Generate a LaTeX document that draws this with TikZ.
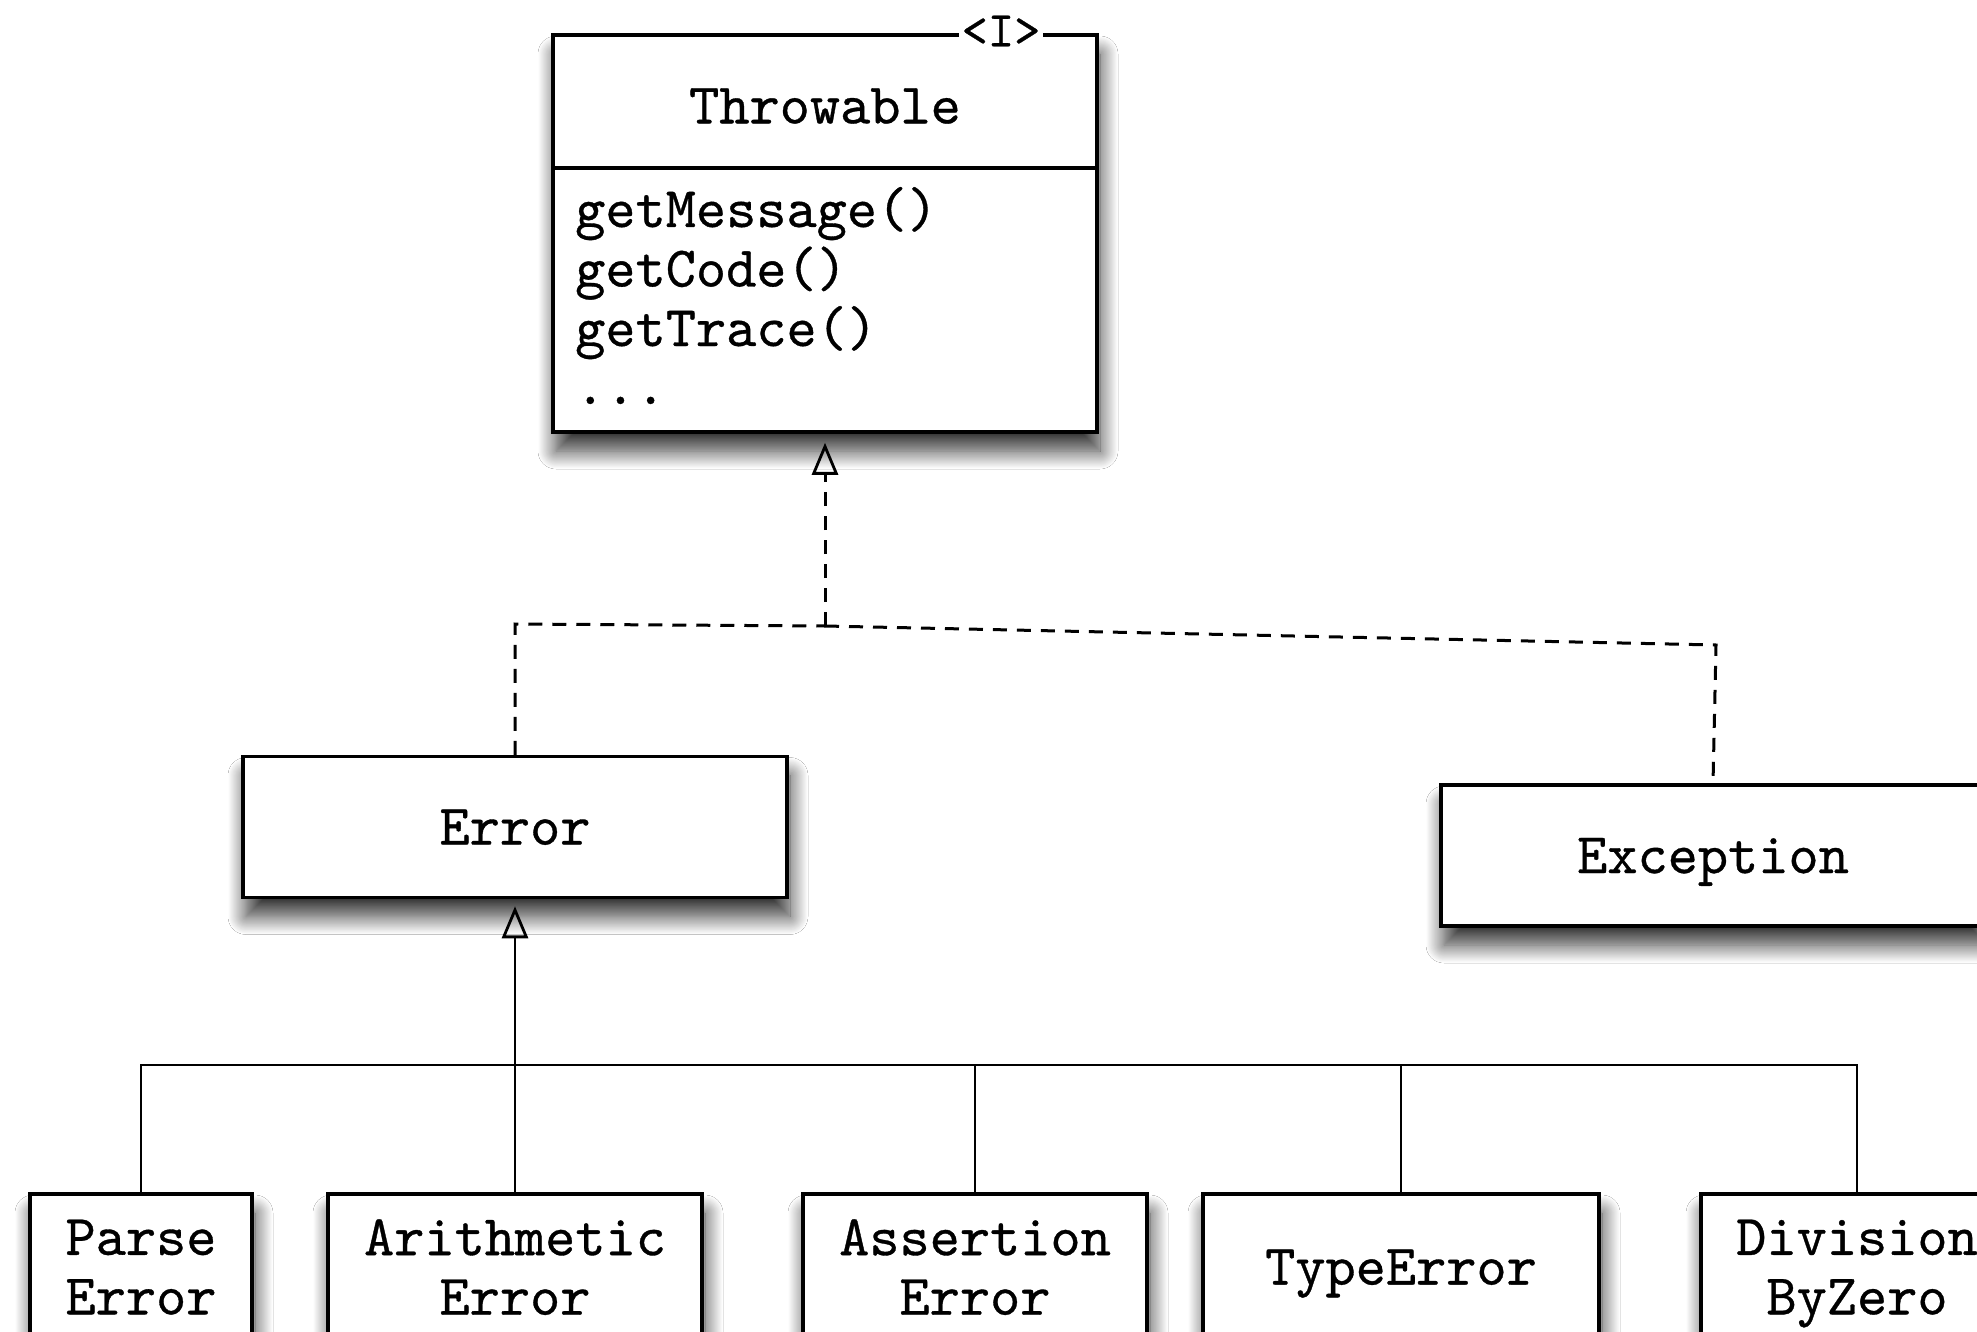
\documentclass[tikz,border=0pt]{standalone}
\usepackage{fontspec}
\setmonofont{lmmono10-regular.otf}[FakeBold=0.6]
\usetikzlibrary{arrows.meta,shadows.blur}

\begin{document}
\begin{tikzpicture}[x=1pt,y=-1pt,
  umlfont/.style={font=\fontsize{57.5}{59.5}\selectfont\ttfamily},
  classbox/.style={rectangle, draw=black, line width=3.5pt, fill=white, inner sep=0pt,
    umlfont, align=center, text depth=0pt,
    blur shadow={shadow xshift=3pt, shadow yshift=-19pt, shadow blur radius=18pt, shadow opacity=80, shadow blur steps=24}},
  opline/.style={anchor=base west, inner sep=0pt, umlfont},
  hollowtip/.tip={Triangle[open, length=32pt, width=26pt, line width=2.8pt]},
  realizes/.style={line width=3pt, dash pattern=on 14pt off 10pt},
  inherits/.style={line width=2.8pt}
]
\useasboundingbox (0,0) rectangle (1977,1332);
\fill[white] (0,0) rectangle (1977,1332);

% interface Throwable
\node[classbox, minimum width=544pt, minimum height=397pt] (thr) at (825,233.5) {};
\draw[line width=3.5pt] ([yshift=-135pt]thr.north west) -- ([yshift=-135pt]thr.north east);
\node[umlfont, inner sep=0pt] (thrname) at (825,106) {Throwable};
\node[fill=white, inner xsep=3pt, inner ysep=0pt, font=\fontsize{50}{50}\selectfont\ttfamily] (stereo) at (1001,31) {<I>};
\node[opline] (op1) at (575,227) {getMessage()};
\node[opline] (op2) at (575,286.5) {getCode()};
\node[opline] (op3) at (575,346) {getTrace()};
\node[opline] (op4) at (575,404) {...};

% classes
\node[classbox, minimum width=544pt, minimum height=141pt] (err) at (515,827) {Error};
\node[classbox, minimum width=544pt, minimum height=141pt] (exc) at (1713,855.5) {Exception};

\node[classbox, minimum width=222pt, minimum height=146pt] (pe) at (141,1267) {Parse\\Error};
\node[classbox, minimum width=374pt, minimum height=146pt] (ae) at (515,1267) {Arithmetic\\Error};
\node[classbox, minimum width=344pt, minimum height=146pt] (as) at (975,1267) {Assertion\\Error};
\node[classbox, minimum width=396pt, minimum height=146pt] (te) at (1401,1267) {TypeError};
\node[classbox, minimum width=312pt, minimum height=146pt] (de) at (1857,1267) {Division\\ByZero};

% realization of Throwable
\coordinate (j) at (825,626);
\coordinate (ecorner) at (515,624);
\coordinate (xcorner) at (1716,645);
\draw[realizes, -hollowtip, shorten >=9pt] (j) -- (thr.south);
\draw[realizes] (err.north) -- (err.north |- ecorner) -- (j);
\draw[realizes] (j) -- (xcorner) -- (exc.north);

% subclasses of Error
\coordinate (bar) at (515,1065);
\draw[inherits, -hollowtip, shorten >=7pt] (ae.north) -- (err.south);
\draw[inherits] (pe.north) -- (pe.north |- bar) -- (de.north |- bar) -- (de.north);
\draw[inherits] (as.north) -- (as.north |- bar);
\draw[inherits] (te.north) -- (te.north |- bar);
\end{tikzpicture}
\end{document}
